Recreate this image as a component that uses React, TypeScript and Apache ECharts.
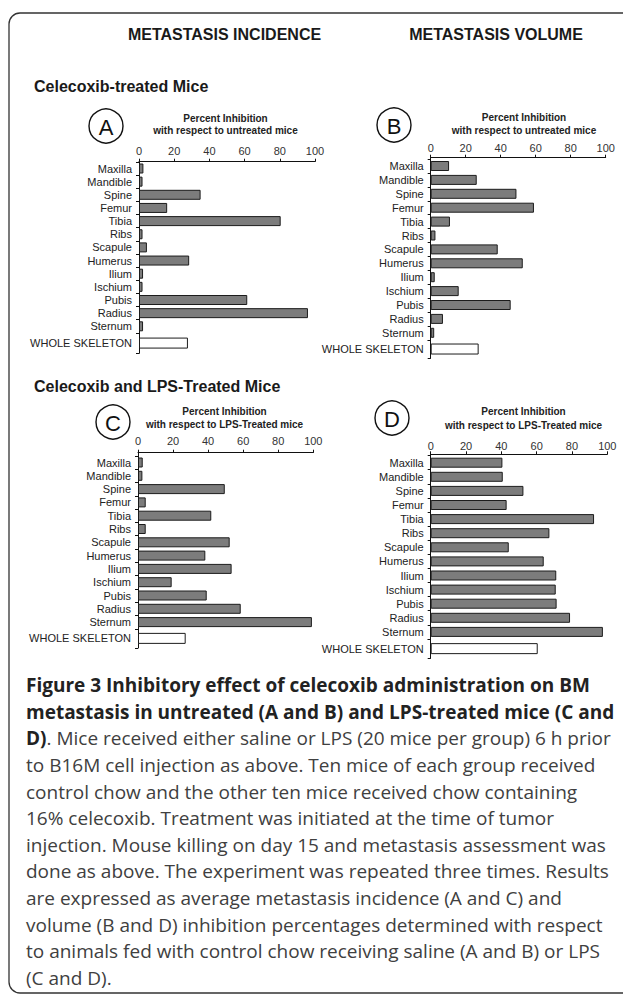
import React, { useEffect, useRef } from "react";
import * as echarts from "echarts";

// ---------- data ----------
const bones = [
  "Maxilla", "Mandible", "Spine", "Femur", "Tibia", "Ribs", "Scapule",
  "Humerus", "Ilium", "Ischium", "Pubis", "Radius", "Sternum",
];
const wholeLabel = ["WHOLE SKELETON"];
const xTicks = { min: 0, max: 100, step: 20 };

const incidenceUntreated = [2.5, 2, 35, 16, 80.5, 2, 4.5, 28.5, 2.3, 2, 61.5, 96, 2.3];
const incidenceUntreatedWhole = [27.8];
const volumeUntreated = [10.5, 26.3, 49, 59, 11, 2.7, 38.3, 52.6, 2.3, 16, 45.7, 7, 2];
const volumeUntreatedWhole = [27.4];
const incidenceLPS = [2.7, 2.5, 49.5, 4.4, 41.8, 4.4, 52.3, 38.4, 53.4, 19.2, 39.2, 58.6, 99.2];
const incidenceLPSWhole = [27.2];
const volumeLPS = [40.6, 40.8, 52.5, 43, 92.5, 67.2, 44.2, 64, 71.1, 70.8, 71.3, 78.9, 97.5];
const volumeLPSWhole = [60.6];

const panelLetters = ["A", "B", "C", "D"];
const panelTitle1 = "Percent Inhibition";
const panelTitle2 = [
  "with respect to untreated mice",
  "with respect to untreated mice",
  "with respect to LPS-Treated mice",
  "with respect to LPS-Treated mice",
];
const columnHeaders = ["METASTASIS INCIDENCE", "METASTASIS VOLUME"];
const rowHeaders = ["Celecoxib-treated Mice", "Celecoxib and LPS-Treated Mice"];

const captionLines = [
  "Figure 3 Inhibitory effect of celecoxib administration on BM",
  "metastasis in untreated (A and B) and LPS-treated mice (C and",
  "D)|. Mice received either saline or LPS (20 mice per group) 6 h prior",
  "to B16M cell injection as above. Ten mice of each group received",
  "control chow and the other ten mice received chow containing",
  "16% celecoxib. Treatment was initiated at the time of tumor",
  "injection. Mouse killing on day 15 and metastasis assessment was",
  "done as above. The experiment was repeated three times. Results",
  "are expressed as average metastasis incidence (A and C) and",
  "volume (B and D) inhibition percentages determined with respect",
  "to animals fed with control chow receiving saline (A and B) or LPS",
  "(C and D).",
];

// ---------- layout ----------
const FONT = "'Liberation Sans', Arial, sans-serif";
const CAP_FONT = "'Open Sans', 'Noto Sans', sans-serif";

const panels = [
  { vals: incidenceUntreated, whole: incidenceUntreatedWhole, x0: 139, x1: 315, axisTop: 161.7, first: 168.5, sp: 13.15, bottom: 353.3, tickMargin: 5, circle: [106, 126], titleX: 225.5, titleY: [118.3, 130.7] },
  { vals: volumeUntreated, whole: volumeUntreatedWhole, x0: 430.7, x1: 605.7, axisTop: 157.7, first: 166, sp: 13.9, bottom: 358.3, tickMargin: 4, circle: [394, 125], titleX: 524, titleY: [117.3, 130.7] },
  { vals: incidenceLPS, whole: incidenceLPSWhole, x0: 138, x1: 313.3, axisTop: 452.7, first: 462.5, sp: 13.3, bottom: 648, tickMargin: 6, circle: [113, 422], titleX: 224.5, titleY: [411, 424] },
  { vals: volumeLPS, whole: volumeLPSWhole, x0: 430.7, x1: 607.3, axisTop: 454.3, first: 462.7, sp: 14.1, bottom: 658.3, tickMargin: 3, circle: [392, 418], titleX: 523.5, titleY: [411, 425] },
];

function buildOption() {
  const grid: any[] = [];
  const xAxis: any[] = [];
  const yAxis: any[] = [];
  const series: any[] = [];
  const graphic: any[] = [];

  const barStyle = {
    color: "#7c7c7c",
    borderColor: "#1c1c1c",
    borderWidth: 1,
  };
  const wholeStyle = { ...barStyle, color: "#ffffff" };

  const catAxis = (gi: number, data: string[]) => ({
    gridIndex: gi,
    type: "category",
    data,
    inverse: true,
    axisLine: { show: false, onZero: false },
    axisTick: { show: true, interval: 0, length: 3, lineStyle: { color: "#111", width: 1 } },
    axisLabel: { interval: 0, margin: 7, fontSize: 11, color: "#222", fontFamily: FONT },
    splitLine: { show: false },
  });
  const hiddenX = (gi: number) => ({
    gridIndex: gi, type: "value", min: xTicks.min, max: xTicks.max, show: false,
  });

  panels.forEach((p, i) => {
    const w = p.x1 - p.x0;
    // frame grid: top value axis + vertical axis line
    const fi = grid.length;
    grid.push({ left: p.x0, top: p.axisTop, width: w, height: p.bottom - p.axisTop });
    xAxis.push({
      gridIndex: fi,
      type: "value",
      position: "top",
      min: xTicks.min,
      max: xTicks.max,
      interval: xTicks.step,
      axisLine: { show: true, onZero: false, lineStyle: { color: "#111", width: 1 } },
      axisTick: { show: true, length: 3, lineStyle: { color: "#111" } },
      axisLabel: { margin: p.tickMargin, fontSize: 11, color: "#333", fontFamily: FONT },
      splitLine: { show: false },
    });
    yAxis.push({
      gridIndex: fi, type: "value", min: 0, max: 1, position: "left",
      axisLine: { show: true, onZero: false, lineStyle: { color: "#111", width: 1 } },
      axisTick: { show: false }, axisLabel: { show: false }, splitLine: { show: false },
    });

    // bones grid
    const mTop = p.first - p.sp / 2;
    const mH = bones.length * p.sp;
    const mi = grid.length;
    grid.push({ left: p.x0, top: mTop, width: w, height: mH });
    xAxis.push(hiddenX(mi));
    yAxis.push(catAxis(mi, bones));
    series.push({
      type: "bar", xAxisIndex: mi, yAxisIndex: mi, data: p.vals,
      barWidth: 10, itemStyle: barStyle, silent: true,
    });

    // whole skeleton grid
    const wi = grid.length;
    grid.push({ left: p.x0, top: mTop + mH, width: w, height: p.bottom - (mTop + mH) });
    xAxis.push(hiddenX(wi));
    yAxis.push(catAxis(wi, wholeLabel));
    series.push({
      type: "bar", xAxisIndex: wi, yAxisIndex: wi, data: p.whole,
      barWidth: 11, itemStyle: wholeStyle, silent: true,
    });

    // circle with letter
    graphic.push({
      type: "circle", shape: { cx: p.circle[0], cy: p.circle[1], r: 17 },
      style: { fill: "none", stroke: "#111", lineWidth: 1.4 }, silent: true,
    });
    graphic.push({
      type: "text", x: p.circle[0], y: p.circle[1] + 1,
      style: { text: panelLetters[i], fill: "#111", font: `22px ${FONT}`, textAlign: "center", textVerticalAlign: "middle" },
      silent: true,
    });
    graphic.push({
      type: "text", x: p.titleX, y: p.titleY[0],
      style: { text: panelTitle1, fill: "#222", font: `bold 10px ${FONT}`, textAlign: "center", textVerticalAlign: "middle" },
      silent: true,
    });
    graphic.push({
      type: "text", x: p.titleX, y: p.titleY[1],
      style: { text: panelTitle2[i], fill: "#222", font: `bold 10px ${FONT}`, textAlign: "center", textVerticalAlign: "middle" },
      silent: true,
    });
  });

  // outer rounded frame
  graphic.push({
    type: "rect", shape: { x: 9, y: 13, width: 640, height: 980, r: 11 },
    style: { fill: "none", stroke: "#333", lineWidth: 1.3 }, silent: true, z: -1,
  });

  // column headers
  const colX = [224.5, 496];
  columnHeaders.forEach((t, k) => {
    graphic.push({
      type: "text", x: colX[k], y: 34,
      style: { text: t, fill: "#1a1a1a", font: `bold 16px ${FONT}`, textAlign: "center", textVerticalAlign: "middle" },
      silent: true,
    });
  });
  const rowY = [86, 386.7];
  rowHeaders.forEach((t, k) => {
    graphic.push({
      type: "text", x: 34, y: rowY[k],
      style: { text: t, fill: "#1a1a1a", font: `bold 16px ${FONT}`, textAlign: "left", textVerticalAlign: "middle" },
      silent: true,
    });
  });

  // caption
  captionLines.forEach((line, k) => {
    const y = 685 + k * 26.63;
    let text: string;
    if (k < 2) text = `{b|${line}}`;
    else if (line.includes("|")) {
      const [a, b] = line.split("|");
      text = `{b|${a}}{r|${b}}`;
    } else text = `{r|${line}}`;
    graphic.push({
      type: "text", x: 26, y,
      style: {
        text,
        textAlign: "left",
        textVerticalAlign: "middle",
        rich: {
          b: { fontFamily: CAP_FONT, fontSize: 19, fontWeight: "bold", fill: "#222", color: "#222" },
          r: { fontFamily: CAP_FONT, fontSize: 19, fontWeight: "normal", fill: "#404040", color: "#404040" },
        },
      },
      silent: true,
    });
  });

  return {
    animation: false,
    backgroundColor: "#ffffff",
    textStyle: { fontFamily: FONT },
    grid,
    xAxis,
    yAxis,
    series,
    graphic,
  };
}

export default function App() {
  const ref = useRef<HTMLDivElement>(null);
  useEffect(() => {
    document.body.style.margin = "0";
    const chart = echarts.init(ref.current!, null, { renderer: "svg" });
    chart.setOption(buildOption() as any);
    return () => chart.dispose();
  }, []);
  return <div ref={ref} style={{ width: 623, height: 994 }} />;
}
